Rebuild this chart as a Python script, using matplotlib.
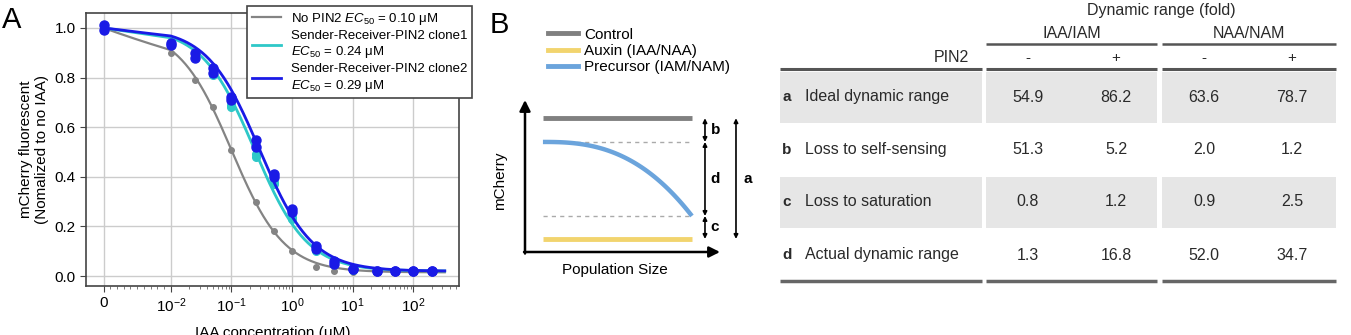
import numpy as np
import matplotlib.pyplot as plt
from matplotlib.lines import Line2D
from matplotlib.patches import Rectangle

plt.rcParams['font.family'] = ['Liberation Sans', 'DejaVu Sans']
plt.rcParams['mathtext.fontset'] = 'custom'
plt.rcParams['mathtext.rm'] = 'Liberation Sans'
plt.rcParams['mathtext.it'] = 'Liberation Sans:italic'
plt.rcParams['mathtext.bf'] = 'Liberation Sans:bold'

W, H = 1351, 335

# ---------------- panel A data ----------------
conc = [0, 0.01, 0.025, 0.05, 0.1, 0.25, 0.5, 1, 2.5, 5, 10, 25, 50, 100, 200]
no_pin2 = [1.00, 0.90, 0.79, 0.68, 0.51, 0.30, 0.18, 0.10, 0.035, 0.02, 0.015, 0.015, 0.015, 0.015, 0.015]
clone1_rep1 = [1.00, 0.94, 0.89, 0.81, 0.68, 0.48, 0.37, 0.23, 0.10, 0.05, 0.03, 0.02, 0.02, 0.02, 0.02]
clone1_rep2 = [0.99, 0.93, 0.90, 0.82, 0.69, 0.49, 0.38, 0.24, 0.11, 0.05, 0.025, 0.02, 0.02, 0.02, 0.02]
clone2_rep1 = [1.01, 0.94, 0.90, 0.84, 0.72, 0.55, 0.41, 0.27, 0.12, 0.06, 0.03, 0.02, 0.02, 0.02, 0.02]
clone2_rep2 = [0.99, 0.93, 0.88, 0.82, 0.71, 0.52, 0.40, 0.26, 0.11, 0.05, 0.03, 0.02, 0.02, 0.02, 0.02]

# fitted dose-response parameters (EC50 from legend)
ec50 = [0.10, 0.24, 0.29]
hill = [1.0, 1.0, 1.0]
top = [1.0, 1.0, 1.0]
bottom = [0.015, 0.02, 0.02]

series_labels = ['No PIN2 $EC_{50}$ = 0.10 μM',
                 'Sender-Receiver-PIN2 clone1\n$EC_{50}$ = 0.24 μM',
                 'Sender-Receiver-PIN2 clone2\n$EC_{50}$ = 0.29 μM']
series_colors = ['#848484', '#2ec8c8', '#1a1ae6']

# ---------------- panel B schematic ----------------
b_labels = ['Control', 'Auxin (IAA/NAA)', 'Precursor (IAM/NAM)']
b_colors = ['#808080', '#f2d46e', '#6ba4dc']
level_control = 0.88
level_precursor = [0.724, 0.237]
level_auxin = 0.086

# ---------------- table data ----------------
row_letters = ['a', 'b', 'c', 'd']
row_names = ['Ideal dynamic range', 'Loss to self-sensing', 'Loss to saturation', 'Actual dynamic range']
groups = ['IAA/IAM', 'NAA/NAM']
pin2 = ['-', '+', '-', '+']
iaa_minus = [54.9, 51.3, 0.8, 1.3]
iaa_plus = [86.2, 5.2, 1.2, 16.8]
naa_minus = [63.6, 2.0, 0.9, 52.0]
naa_plus = [78.7, 1.2, 2.5, 34.7]

fig = plt.figure(figsize=(W / 100, H / 100), dpi=100)

# ================= A =================
ax = fig.add_axes([86 / W, (H - 286) / H, (459 - 86) / W, (286 - 13) / H])
ax.set_xscale('symlog', linthresh=0.01, linscale=1)
xs = np.concatenate([np.linspace(0, 0.01, 40), np.logspace(-2, np.log10(330), 300)])
reps = [[no_pin2], [clone1_rep1, clone1_rep2], [clone2_rep1, clone2_rep2]]
msizes = [4, 5.5, 6.5]
lws = [1.6, 2, 2]
for i in range(3):
    fit = bottom[i] + (top[i] - bottom[i]) / (1 + (xs / ec50[i]) ** hill[i])
    ax.plot(xs, fit, color=series_colors[i], lw=lws[i], label=series_labels[i], zorder=3 + i)
    for r in reps[i]:
        ax.plot(conc, r, 'o', color=series_colors[i], ms=msizes[i], zorder=3 + i)

ax.set_xticks([0, 1e-2, 1e-1, 1, 10, 100])
ax.set_xticklabels(['0', '$10^{-2}$', '$10^{-1}$', '$10^{0}$', '$10^{1}$', '$10^{2}$'])
minors = [k * 0.001 for k in range(1, 10)]
for d in [0.01, 0.1, 1, 10, 100]:
    minors += [k * d for k in range(2, 10) if k * d < 560]
ax.set_xticks(minors, minor=True)
ax.set_xlim(-0.0026, 567)
ax.set_ylim(-0.04, 1.06)
ax.set_yticks(np.arange(0, 1.01, 0.2))
ax.set_yticklabels(['0.0', '0.2', '0.4', '0.6', '0.8', '1.0'])
ax.grid(True, which='major', color='#cccccc', lw=1)
ax.set_axisbelow(True)
ax.tick_params(axis='both', which='major', labelsize=11, length=4, color='#444444')
ax.tick_params(axis='x', which='minor', length=2.5, color='#666666')
for s in ax.spines.values():
    s.set_color('#444444')
    s.set_linewidth(1.2)
ax.set_ylabel('mCherry fluorescent\n(Nomalized to no IAA)', fontsize=11, labelpad=4)
ax.set_xlabel('IAA concentration (μM)', fontsize=11, labelpad=8)
leg = ax.legend(loc='upper left', bbox_to_anchor=(247 / W, 1 - 6 / H), bbox_transform=fig.transFigure,
                fontsize=9.5, frameon=True, fancybox=False, framealpha=1, edgecolor='#444444',
                handlelength=2.2, labelspacing=0.25, borderpad=0.35, handletextpad=0.8,
                borderaxespad=0)
leg.get_frame().set_linewidth(1.2)
leg.set_zorder(10)
fig.text(2 / W, 1 - 20 / H, 'A', fontsize=21, va='center', ha='left')

# ================= B =================
fig.text(490 / W, 1 - 25 / H, 'B', fontsize=21, va='center', ha='left')
axb = fig.add_axes([525 / W, (H - 252) / H, 195 / W, 152 / H])
axb.set_xlim(0, 1)
axb.set_ylim(0, 1)
axb.axis('off')
x0, x1 = 0.092, 0.856
axb.plot([x0, x1], [level_control] * 2, color=b_colors[0], lw=3.5, solid_capstyle='butt', clip_on=False)
axb.plot([x0, x1], [level_auxin] * 2, color=b_colors[1], lw=3.5, solid_capstyle='butt', clip_on=False)
for lv in level_precursor:
    axb.plot([x0, x1], [lv, lv], color='#aaaaaa', lw=1, ls=(0, (3, 3)), clip_on=False)
t = np.linspace(0, 1, 100)
axb.plot(x0 + (x1 - x0) * t, level_precursor[0] - (level_precursor[0] - level_precursor[1]) * t ** 2.6,
         color=b_colors[2], lw=3.2, clip_on=False, solid_capstyle='butt')
arr = dict(arrowstyle='-|>', lw=1.8, color='black', mutation_scale=16, shrinkA=0, shrinkB=0)
axb.annotate('', xy=(0, 1.0), xytext=(0, -0.01), arrowprops=arr, annotation_clip=False)
axb.annotate('', xy=(1.0, 0), xytext=(-0.005, 0), arrowprops=arr, annotation_clip=False)
darr = dict(arrowstyle='<|-|>', lw=1.2, color='black', mutation_scale=6, shrinkA=0, shrinkB=0)
xb = 0.923
spans = [(level_control, level_precursor[0], 'b'), (level_precursor[0], level_precursor[1], 'd'),
         (level_precursor[1], level_auxin, 'c')]
for ya, yb, lab in spans:
    axb.annotate('', xy=(xb, ya), xytext=(xb, yb), arrowprops=darr, annotation_clip=False)
    axb.text(xb + 0.03, (ya + yb) / 2, lab, fontsize=11, fontweight='bold', va='center', ha='left')
axb.annotate('', xy=(1.082, level_control), xytext=(1.082, level_auxin), arrowprops=darr, annotation_clip=False)
axb.text(1.12, (level_control + level_auxin) / 2, 'a', fontsize=11, fontweight='bold', va='center', ha='left')
axb.text(-0.13, 0.47, 'mCherry', rotation=90, fontsize=11, va='center', ha='center')
axb.text(0.46, -0.12, 'Population Size', fontsize=11, va='center', ha='center')
b_handles = [Line2D([], [], color=c, lw=3.5) for c in b_colors]
axb.legend(b_handles, b_labels, loc='upper left', bbox_to_anchor=(540 / W, 1 - 20 / H),
           bbox_transform=fig.transFigure, frameon=False, fontsize=11, handlelength=2.0,
           labelspacing=0.15, handletextpad=0.4, borderpad=0)

# ================= table =================
axt = fig.add_axes([0, 0, 1, 1])
axt.set_xlim(0, W)
axt.set_ylim(H, 0)
axt.axis('off')
segs = [(780, 982), (986, 1157), (1162, 1336)]
col_x = [1028, 1116, 1204, 1292]
row_y = [97, 149.5, 202, 255]
row_h = 51
tc = '#2a2a2a'
cols = [iaa_minus, iaa_plus, naa_minus, naa_plus]
for j in range(4):
    if j % 2 == 0:
        for a, b in segs:
            axt.add_patch(Rectangle((a, row_y[j] - row_h / 2), b - a, row_h, color='#e6e6e6', lw=0))
    axt.text(787, row_y[j], row_letters[j], fontsize=11, fontweight='bold', color=tc, ha='center', va='center')
    axt.text(805, row_y[j], row_names[j], fontsize=11.5, color=tc, ha='left', va='center')
    for i in range(4):
        axt.text(col_x[i], row_y[j], f'{cols[i][j]:.1f}', fontsize=11.5, color=tc, ha='center', va='center')
for a, b in segs:
    axt.plot([a, b], [69, 69], color='#555555', lw=2.2, solid_capstyle='butt')
    axt.plot([a, b], [281, 281], color='#666666', lw=2.5, solid_capstyle='butt')
for a, b in segs[1:]:
    axt.plot([a, b], [44, 44], color='#555555', lw=1.8, solid_capstyle='butt')
for g, (a, b) in zip(groups, segs[1:]):
    axt.text((a + b) / 2, 33, g, fontsize=11.5, color=tc, ha='center', va='center')
axt.text(1161, 10, 'Dynamic range (fold)', fontsize=11.5, color=tc, ha='center', va='center')
axt.text(969, 58, 'PIN2', fontsize=11.5, color=tc, ha='right', va='center')
for i in range(4):
    axt.text(col_x[i], 58, pin2[i], fontsize=11, color=tc, ha='center', va='center')

fig.savefig('out.png', dpi=100)
